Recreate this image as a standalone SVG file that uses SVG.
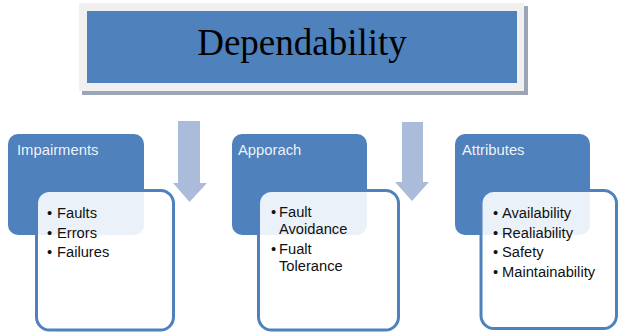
<svg xmlns="http://www.w3.org/2000/svg" width="619" height="333" viewBox="0 0 619 333">
  <style>
    .hdr { fill: #4f81bd; }
    .card { fill: #ffffff; fill-opacity: 0.89; stroke: #4f81bd; stroke-width: 3; }
    .ttl { font-family: "Liberation Sans", Arial, sans-serif; font-size: 14.8px; fill: #ffffff; fill-opacity: 0.92; }
    .item { font-family: "Liberation Sans", Arial, sans-serif; font-size: 14.7px; fill: #111111; }
    .arrow { fill: #aabcd9; }
  </style>
  <rect width="619" height="333" fill="#ffffff"/>

  <!-- title banner -->
  <g id="dependability">
    <rect x="82" y="6" width="446" height="89" fill="#9ba5b5"/>
    <rect x="79" y="3" width="445" height="88" fill="#f0f0f0"/>
    <rect x="87" y="11" width="430" height="72" fill="#4f81bd"/>
    <text x="302" y="55" text-anchor="middle" font-family="'Liberation Serif', 'Times New Roman', serif" font-size="37" fill="#000000">Dependability</text>
  </g>

  <!-- flow arrows -->
  <g id="connectors">
    <path class="arrow" d="M178,121 H200 V183 H207 L189.5,202 L173,183 H178 Z"/>
    <path class="arrow" d="M402,122 H423 V182 H429 L412,201 L395,182 H402 Z"/>
  </g>

  <g id="impairments">
    <rect class="hdr" x="8" y="134" width="136" height="101" rx="10"/>
    <text class="ttl" x="17" y="155">Impairments</text>
    <rect class="card" x="36.5" y="190.5" width="137" height="139.5" rx="13"/>
    <text class="item" x="47" y="218">•</text><text class="item" x="57" y="218">Faults</text>
    <text class="item" x="47" y="238">•</text><text class="item" x="57" y="238">Errors</text>
    <text class="item" x="47" y="257">•</text><text class="item" x="57" y="257">Failures</text>
  </g>

  <g id="approach">
    <rect class="hdr" x="232" y="134" width="135" height="101" rx="10"/>
    <text class="ttl" x="238" y="155">Apporach</text>
    <rect class="card" x="258.5" y="190.5" width="140" height="139.5" rx="13"/>
    <text class="item" x="271" y="217">•</text><text class="item" x="279" y="217">Fault</text>
    <text class="item" x="279" y="234">Avoidance</text>
    <text class="item" x="271" y="254">•</text><text class="item" x="279" y="254">Fualt</text>
    <text class="item" x="279" y="271">Tolerance</text>
  </g>

  <g id="attributes">
    <rect class="hdr" x="455" y="134" width="135" height="101" rx="10"/>
    <text class="ttl" x="462" y="155">Attributes</text>
    <rect class="card" x="481" y="190.5" width="135.5" height="138" rx="13"/>
    <text class="item" x="493" y="218">•</text><text class="item" x="502" y="218">Availability</text>
    <text class="item" x="493" y="238">•</text><text class="item" x="502" y="238">Realiability</text>
    <text class="item" x="493" y="257">•</text><text class="item" x="502" y="257">Safety</text>
    <text class="item" x="493" y="277">•</text><text class="item" x="502" y="277">Maintainability</text>
  </g>
</svg>
